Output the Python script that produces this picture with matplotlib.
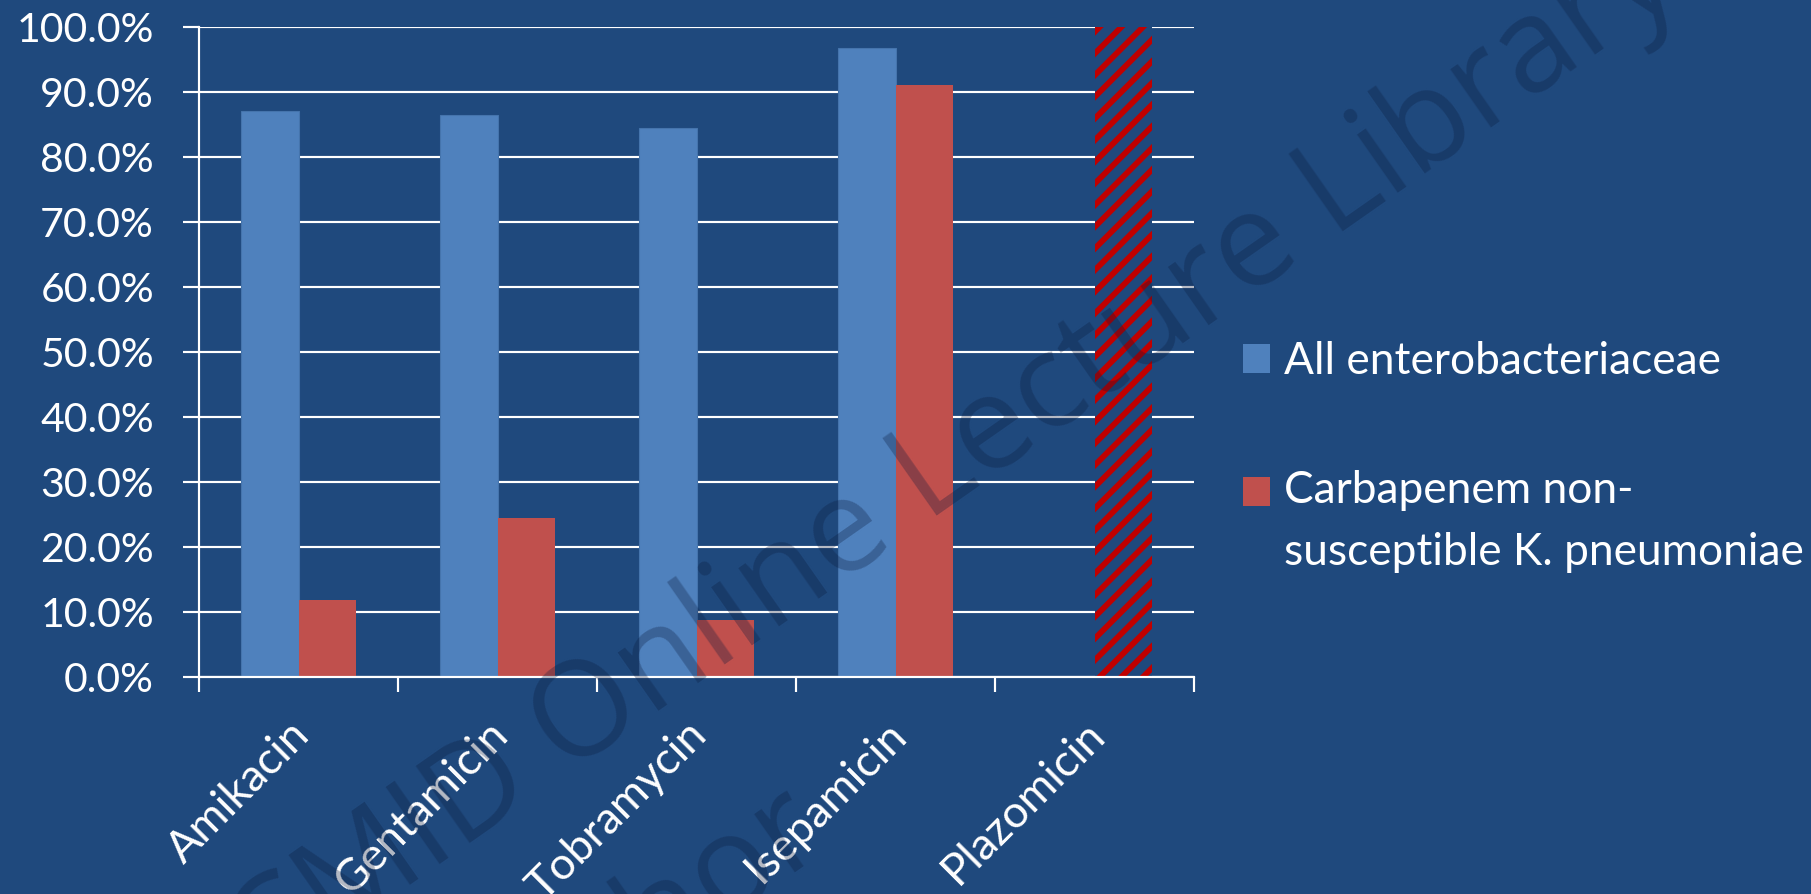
import numpy as np
import matplotlib
matplotlib.use("Agg")
import matplotlib.pyplot as plt
from matplotlib.patches import Patch, Rectangle
from matplotlib.legend_handler import HandlerPatch
from matplotlib.transforms import ScaledTranslation

# susceptibility (%) per aminoglycoside
drugs = ["Amikacin", "Gentamicin", "Tobramycin", "Isepamicin", "Plazomicin"]
all_entero = [87.1, 86.4, 84.4, 96.8, np.nan]
cnskp = [11.9, 24.5, 8.7, 91.1, 100.0]
series_names = ["All enterobacteriaceae", "Carbapenem non-\nsusceptible K. pneumoniae"]
yticks = np.arange(0, 101, 10)

bg = "#1F497D"
blue = "#4F81BD"
red = "#C0504D"
stripe = "#C00000"

DPI = 130
PX = 72 / DPI  # points per pixel
plt.rcParams["font.family"] = ["Lato", "DejaVu Sans"]
plt.rcParams["hatch.linewidth"] = 3.2


class RaisedSquare(HandlerPatch):
    """Square legend key shifted up to sit next to the first text line."""

    def __init__(self, lift, **kw):
        super().__init__(**kw)
        self.lift = lift

    def create_artists(self, legend, orig_handle, xdescent, ydescent,
                       width, height, fontsize, trans):
        p = Rectangle((-xdescent, -ydescent + self.lift), width, height,
                      facecolor=orig_handle.get_facecolor(),
                      edgecolor="none", transform=trans)
        return [p]


fig = plt.figure(figsize=(1811 / DPI, 894 / DPI), dpi=DPI, facecolor=bg)
ax = fig.add_axes([199 / 1811, 1 - 677 / 894, 995 / 1811, 650 / 894])
ax.set_facecolor(bg)

x = np.arange(len(drugs))
w = 0.289
ax.bar(x - w / 2, all_entero, w, color=blue, edgecolor="#4574AC", linewidth=0.6)
red_bars = ax.bar(x + w / 2, cnskp, w, color=red, linewidth=0)

# plazomicin drawn as striped bar
last = red_bars[-1]
last.set_facecolor(bg)
last.set_edgecolor(stripe)
last.set_hatch("//")

ax.set_xlim(-0.5, 4.5)
ax.set_ylim(0, 100)
ax.set_yticks(yticks)
ax.set_yticklabels([f"{v:.1f}%" for v in yticks])
ax.yaxis.grid(True, color="white", linewidth=1.2)
ax.set_axisbelow(True)
ax.tick_params(axis="y", length=16 * PX, width=1.2, color="white",
               pad=29 * PX, labelsize=22.7, labelcolor="white")

ax.set_xticks(x)
ax.set_xticklabels(drugs, rotation=45, ha="right", va="center",
                   rotation_mode="anchor")
ax.tick_params(axis="x", which="major", length=0, pad=51 * PX,
               labelsize=25, labelcolor="white")
ax.set_xticks(np.arange(-0.5, 5, 1), minor=True)
ax.tick_params(axis="x", which="minor", length=15 * PX, width=1.2, color="white")
shift = ScaledTranslation(4 / DPI, 0, fig.dpi_scale_trans)
for lab in ax.get_xticklabels():
    lab.set_transform(lab.get_transform() + shift)

for sp in ["top", "right"]:
    ax.spines[sp].set_visible(False)
for sp in ["left", "bottom"]:
    ax.spines[sp].set_color("white")
    ax.spines[sp].set_linewidth(1.2)

h_all = Patch(facecolor=blue, edgecolor="none")
h_cns = Patch(facecolor=red, edgecolor="none")
leg = fig.legend([h_all, h_cns], series_names, loc="upper left",
                 bbox_to_anchor=(1243 / 1811, 1 - 341 / 894), frameon=False,
                 fontsize=24.5, labelcolor="white", handlelength=0.62,
                 handleheight=0.62, handletextpad=0.3, labelspacing=2.0,
                 borderpad=0, borderaxespad=0,
                 handler_map={h_cns: RaisedSquare(31 * PX)})
leg.get_texts()[1].set_linespacing(1.62)

# watermark
wm = dict(fontfamily="Open Sans", fontsize=73, color="#0A1A3C", alpha=0.3,
          rotation=35, rotation_mode="anchor", zorder=10)
fig.text(927 / 1811, 1 - 523 / 894, "Lecture Library",
         ha="left", va="baseline", **wm)
fig.text(897 / 1811, 1 - 544 / 894, "ESCMID Online",
         ha="right", va="baseline", **wm)
fig.text(830 / 1811, 1 - 848 / 894, "© by author", ha="right",
         va="baseline", **wm)

fig.savefig("out.png", dpi=DPI, facecolor=bg)
